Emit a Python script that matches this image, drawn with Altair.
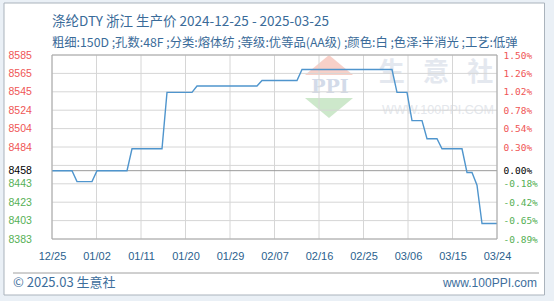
import json
import altair as alt
import pandas as pd
import numpy as np

# ---------------- data ----------------
dates = ["2024-12-25", "2024-12-29", "2024-12-30", "2025-01-02", "2025-01-03", "2025-01-09",
         "2025-01-10", "2025-01-16", "2025-01-17", "2025-01-22", "2025-01-23", "2025-02-04",
         "2025-02-05", "2025-02-12", "2025-02-13", "2025-03-03", "2025-03-04", "2025-03-06",
         "2025-03-07", "2025-03-09", "2025-03-10", "2025-03-12", "2025-03-13", "2025-03-17",
         "2025-03-18", "2025-03-19", "2025-03-20", "2025-03-21", "2025-03-24"]
prices = [8458, 8458, 8446, 8446, 8458, 8458,
          8482, 8482, 8544, 8544, 8551, 8551,
          8557, 8557, 8569, 8569, 8544, 8544,
          8513, 8513, 8493, 8493, 8482, 8482,
          8456, 8456, 8442, 8400, 8400]

base_price = 8458
x_labels = ["12/25", "01/02", "01/11", "01/20", "01/29", "02/07",
            "02/16", "02/25", "03/06", "03/15", "03/24"]
grid_values = [8383, 8403.2, 8423.4, 8443.6, 8463.8, 8484, 8504.2, 8524.4, 8544.6, 8564.8, 8585]
left_values = [8383, 8403.2, 8423.4, 8443.6, 8458, 8484, 8504.2, 8524.4, 8544.6, 8564.8, 8585]
left_labels = ["8383", "8403", "8423", "8443", "8458", "8484", "8504", "8524", "8545", "8565", "8585"]
right_labels = ["-0.89%", "-0.65%", "-0.42%", "-0.18%", "0.00%", "0.30%", "0.54%", "0.78%",
                "1.02%", "1.26%", "1.50%"]

title1 = "涤纶DTY 浙江 生产价 2024-12-25 - 2025-03-25"
title2 = "粗细:150D ;孔数:48F ;分类:熔体纺 ;等级:优等品(AA级) ;颜色:白 ;色泽:半消光 ;工艺:低弹"

# ---------------- tables ----------------
start = pd.Timestamp("2024-12-25")
line_df = pd.DataFrame({"date": dates, "price": prices})
line_df["day"] = (pd.to_datetime(line_df["date"]) - start).dt.days
n_days = 89
y_lo, y_hi = 8383, 8585
x_ticks = [round(float(v), 3) for v in np.linspace(0, n_days, len(x_labels))]

# grid lines as two-point line segments (one id per grid line)
rows = []
for i, gv in enumerate(grid_values):
    rows += [{"gid": f"h{i}", "gx": 0, "gy": gv}, {"gid": f"h{i}", "gx": n_days, "gy": gv}]
for i, p in enumerate(x_ticks):
    rows += [{"gid": f"v{i}", "gx": p, "gy": y_lo}, {"gid": f"v{i}", "gx": p, "gy": y_hi}]
grid_df = pd.DataFrame(rows)

base_df = pd.DataFrame({"base": [base_price]})
one = pd.DataFrame({"k": [0]})

W, H = 445, 184
BG = "#eaf0f6"
BLUE_TXT = "#3a6b99"
RED = "#ef5555"
GREEN = "#55b055"
GRID = "#d6d6d6"

yscale = alt.Scale(domain=[y_lo, y_hi], nice=False, zero=False)
xscale = alt.Scale(domain=[0, n_days], nice=False, zero=False)

x_step = n_days / (len(x_labels) - 1)
x_axis = alt.Axis(values=x_ticks, title=None, grid=False, ticks=False, tickSize=0, domain=False,
                  labelExpr=f"{json.dumps(x_labels)}[round(datum.value / {x_step})]",
                  labelFont="Liberation Sans", labelFontSize=11, labelColor="#2b5f8e",
                  labelPadding=11, labelFlush=False, labelOverlap=False)

label_color = {"condition": [{"test": f"datum.value > {base_price + 1}", "value": RED},
                             {"test": f"datum.value == {base_price}", "value": "#000000"}],
               "value": GREEN}

left_axis = alt.Axis(values=left_values, title=None, grid=False, ticks=False, tickSize=0, domain=False,
                     labelExpr=f"{json.dumps(left_labels)}[indexof({json.dumps(left_values)}, datum.value)]",
                     labelFont="Liberation Sans", labelFontSize=10.5, labelColor=label_color,
                     labelAlign="left", labelPadding=44, labelFlush=False, labelOverlap=False)

right_axis = alt.Axis(orient="right", values=left_values, title=None, grid=False, ticks=False, tickSize=0,
                      domain=False,
                      labelExpr=f"{json.dumps(right_labels)}[indexof({json.dumps(left_values)}, datum.value)]",
                      labelFont="DejaVu Sans Mono", labelFontSize=9.5, labelColor=label_color,
                      labelAlign="left", labelPadding=6, labelFlush=False, labelOverlap=False)

# ---------------- layers ----------------
wm_text = alt.Chart(one).mark_text(text="生\u2002\u2009意\u2002\u2009社", font="Noto Sans CJK SC",
                                   fontSize=26, fontWeight="bold", color="#e4e8ef").encode(
    x=alt.value(384), y=alt.value(18))
wm_url = alt.Chart(one).mark_text(text="WWW.100PPI.COM", font="Liberation Sans", fontSize=12.5,
                                  color="#e4e7ec").encode(x=alt.value(386), y=alt.value(55))
wm_up = alt.Chart(one).mark_point(shape="M-1,0.42L0,-0.42L1,0.42Z", size=2304, filled=True,
                                  color="#f8d0c8", opacity=1).encode(x=alt.value(277), y=alt.value(10))
wm_down = alt.Chart(one).mark_point(shape="M-1,-0.42L1,-0.42L0,0.42Z", size=2304, filled=True,
                                    color="#cde8cb", opacity=1).encode(x=alt.value(277), y=alt.value(53))
wm_ppi = alt.Chart(one).mark_text(text="PPI", font="DejaVu Serif", fontSize=19, fontWeight="bold",
                                  color="#d3dbe9").encode(x=alt.value(278), y=alt.value(32))

grid = alt.Chart(grid_df).mark_line(color=GRID, strokeWidth=1).encode(
    x=alt.X("gx:Q", scale=xscale, axis=x_axis),
    y=alt.Y("gy:Q", scale=yscale, axis=None),
    detail="gid:N")

base_rule = alt.Chart(base_df).mark_rule(color="#9a9a9a", strokeWidth=1).encode(
    y=alt.Y("base:Q", scale=yscale, axis=right_axis))

line = alt.Chart(line_df).mark_line(color="#4f95cd", strokeWidth=1.4).encode(
    x=alt.X("day:Q", scale=xscale, axis=x_axis),
    y=alt.Y("price:Q", scale=yscale, axis=left_axis))

border = alt.Chart(one).mark_rect(fill=None, stroke="#a8a8a8", strokeWidth=1).encode(
    x=alt.value(0), x2=alt.value(W), y=alt.value(0), y2=alt.value(H))

t1 = alt.Chart(one).mark_text(text=title1, font="Noto Sans CJK SC", fontSize=13.5, color=BLUE_TXT,
                              align="left", baseline="middle").encode(x=alt.value(0), y=alt.value(-33))
t2 = alt.Chart(one).mark_text(text=title2, font="Noto Sans CJK SC", fontSize=12.3, color=BLUE_TXT,
                              align="left", baseline="middle").encode(x=alt.value(0), y=alt.value(-12))

foot_line = alt.Chart(one).mark_rule(color="#a0a0a0", strokeWidth=1).encode(
    x=alt.value(-39), x2=alt.value(487), y=alt.value(218))
foot_l = alt.Chart(one).mark_text(text="© 2025.03 生意社", font="Noto Sans CJK SC", fontSize=13,
                                  color="#3d6e9c", align="left", baseline="middle").encode(
    x=alt.value(-39), y=alt.value(228))
foot_r = alt.Chart(one).mark_text(text="www.100PPI.com", font="Liberation Sans", fontSize=12,
                                  color="#3d6e9c", align="right", baseline="middle").encode(
    x=alt.value(485), y=alt.value(228))

band = alt.Chart(one).mark_rect(fill=None, stroke=BG, strokeWidth=20).encode(
    x=alt.value(-58), x2=alt.value(502.5), y=alt.value(-62), y2=alt.value(250))
frame = alt.Chart(one).mark_rect(fill=None, stroke="#aab3bc", strokeWidth=1).encode(
    x=alt.value(-48), x2=alt.value(492.5), y=alt.value(-52), y2=alt.value(240))

chart = alt.layer(
    wm_up, wm_down, wm_ppi, wm_text, wm_url, grid, base_rule, line, border,
    t1, t2, foot_line, foot_l, foot_r, band, frame
).resolve_scale(y="independent").properties(
    width=W, height=H,
    autosize=alt.AutoSizeParams(type="none"),
    padding={"left": 52, "top": 55, "right": 57, "bottom": 62},
    background="white",
).configure_view(stroke=None)

chart.save("out.html", embed_options={"renderer": "svg", "actions": False})
